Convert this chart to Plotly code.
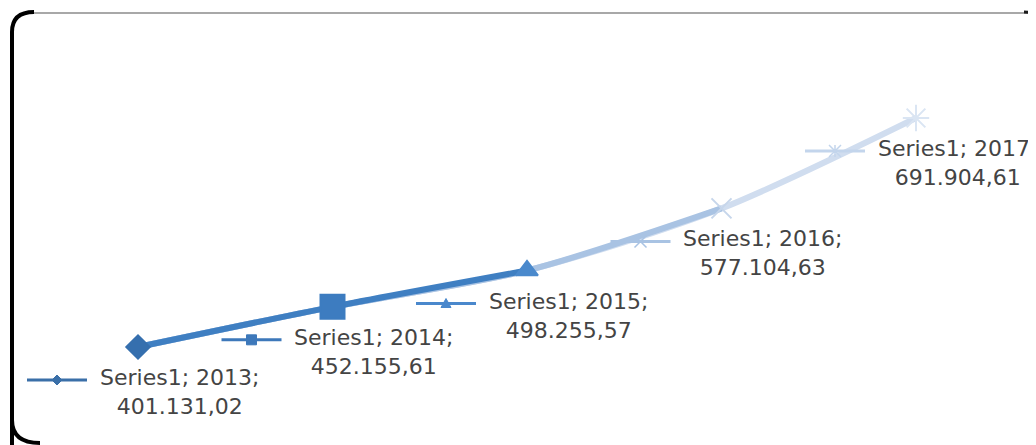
import plotly.graph_objects as go

# ---- data ----
years = [2013, 2014, 2015, 2016, 2017]
values = [401131.02, 452155.61, 498255.57, 577104.63, 691904.61]
value_labels = ["401.131,02", "452.155,61", "498.255,57", "577.104,63", "691.904,61"]
series_name = "Series1"

# ---- styles ----
OFF = 8                    # page body margin in the browser
W, H = 1036 - OFF, 445 - OFF
marker_symbols = ["diamond", "square", "triangle-up", "x-thin-open", "asterisk-open"]
marker_sizes = [18, 24, 19, 20, 22]
marker_colors = ["#356fae", "#3d7cc0", "#4a89cc", "#c6d6eb", "#dae5f3"]
key_colors = ["#3a6fa8", "#3d78ba", "#4a88cc", "#a9c3e3", "#c3d5ec"]

fig = go.Figure()

# gradient-like line built from layered spline traces
fig.add_trace(go.Scatter(x=years, y=values, mode="lines",
                         line=dict(color="#d0ddef", width=6, shape="spline", smoothing=0.8),
                         hoverinfo="skip"))
fig.add_trace(go.Scatter(x=years[:4], y=values[:4], mode="lines",
                         line=dict(color="#a9c3e3", width=6, shape="spline", smoothing=0.8),
                         hoverinfo="skip"))
fig.add_trace(go.Scatter(x=years[:3], y=values[:3], mode="lines",
                         line=dict(color="#3f7fc2", width=6, shape="spline", smoothing=0.8),
                         hoverinfo="skip"))
fig.add_trace(go.Scatter(x=years, y=values, mode="markers",
                         marker=dict(symbol=marker_symbols, size=marker_sizes,
                                     color=marker_colors, opacity=1,
                                     line=dict(color=marker_colors, width=2)),
                         hoverinfo="skip"))

def key_marker_path(sym, cx, cy, s):
    if sym == "diamond":
        return f"M {cx},{cy+s} L {cx+s},{cy} L {cx},{cy-s} L {cx-s},{cy} Z"
    if sym == "square":
        return f"M {cx-s},{cy-s} L {cx+s},{cy-s} L {cx+s},{cy+s} L {cx-s},{cy+s} Z"
    if sym == "triangle-up":
        return f"M {cx-s},{cy-s*0.8} L {cx+s},{cy-s*0.8} L {cx},{cy+s} Z"
    if sym == "x-thin-open":
        return f"M {cx-s},{cy-s} L {cx+s},{cy+s} M {cx-s},{cy+s} L {cx+s},{cy-s}"
    return (f"M {cx-s},{cy-s} L {cx+s},{cy+s} M {cx-s},{cy+s} L {cx+s},{cy-s} "
            f"M {cx},{cy-s} L {cx},{cy+s}")

shapes = []
annotations = []
for i, (yr, v, lab) in enumerate(zip(years, values, value_labels)):
    annotations.append(dict(
        x=yr, y=v, xref="x", yref="y",
        text=f"{series_name}; {yr};<br>{lab}",
        showarrow=False, xanchor="center", yanchor="middle",
        xshift=41, yshift=-45, align="center",
        font=dict(family="DejaVu Sans", size=22, color="#444444"),
    ))
    # legend key line
    shapes.append(dict(type="line", xref="x", yref="y",
                       xsizemode="pixel", ysizemode="pixel",
                       xanchor=yr, yanchor=v,
                       x0=-111, x1=-51, y0=-33, y1=-33,
                       line=dict(color=key_colors[i], width=3)))
    sym = marker_symbols[i]
    open_sym = sym in ("x-thin-open", "asterisk-open")
    shapes.append(dict(type="path", xref="x", yref="y",
                       xsizemode="pixel", ysizemode="pixel",
                       xanchor=yr, yanchor=v,
                       path=key_marker_path(sym, -81, -33, 5 if not open_sym else 6),
                       fillcolor=None if open_sym else key_colors[i],
                       line=dict(color=key_colors[i], width=1.5 if open_sym else 1)))

def px(x):
    return (x - OFF) / W

def py(y):
    return 1 - (y - OFF) / H

# frame (rounded panel border)
shapes.append(dict(type="line", xref="paper", yref="paper",
                   x0=px(32), x1=px(1036), y0=py(13), y1=py(13),
                   line=dict(color="#a8a8a8", width=2), layer="below"))
shapes.append(dict(type="path", xref="paper", yref="paper",
                   path=(f"M {px(12)},{py(452)} L {px(12)},{py(32)} "
                         f"Q {px(12)},{py(12)} {px(34)},{py(12)}"),
                   line=dict(color="#000000", width=4)))
shapes.append(dict(type="path", xref="paper", yref="paper",
                   path=(f"M {px(12)},{py(420)} Q {px(12)},{py(443)} {px(40)},{py(443)}"),
                   line=dict(color="#000000", width=4)))
shapes.append(dict(type="path", xref="paper", yref="paper",
                   path=(f"M {px(1024)},{py(12)} Q {px(1036)},{py(12)} {px(1036)},{py(18)}"),
                   line=dict(color="#1a1a1a", width=3)))

# axis ranges (screen pixel mapping: 2013 -> x=138, 2017 -> x=916; y 401131 -> 347, 691905 -> 118)
X0, X1 = 138 - OFF, 916 - OFF
Y0, Y1 = 347 - OFF, 118 - OFF
x_per_px = 4 / (X1 - X0)
x_lo = 2013 - X0 * x_per_px
x_hi = 2013 + (W - X0) * x_per_px
y_per_px = (values[4] - values[0]) / (Y0 - Y1)
y_hi = values[4] + Y1 * y_per_px
y_lo = values[0] - (H - Y0) * y_per_px

fig.update_layout(
    width=W, height=H,
    margin=dict(l=0, r=0, t=0, b=0),
    paper_bgcolor="white", plot_bgcolor="white",
    showlegend=False,
    xaxis=dict(range=[x_lo, x_hi], visible=False, fixedrange=True),
    yaxis=dict(range=[y_lo, y_hi], visible=False, fixedrange=True),
    shapes=shapes, annotations=annotations,
)

fig.write_html("out.html")
